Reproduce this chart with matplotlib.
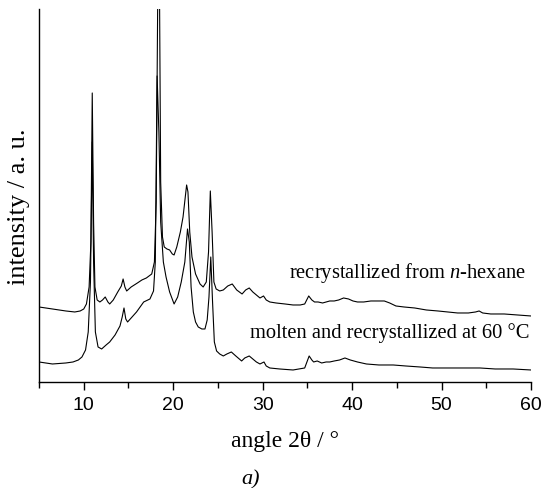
#!/usr/bin/env python3
"""Powder XRD patterns: recrystallized from n-hexane vs. molten/recrystallized at 60 C."""

import matplotlib
matplotlib.use("Agg")
import matplotlib.pyplot as plt
from matplotlib.ticker import MultipleLocator

# upper pattern: recrystallized from n-hexane (angle 2theta, intensity a.u.)
hexane_angle = [5.0, 6.5, 8.0, 9.0, 9.6, 10.0, 10.3, 10.6, 10.8, 10.95, 11.1, 11.25, 11.5,
                11.8, 12.1, 12.4, 12.7, 12.9, 13.3, 13.8, 14.2, 14.4, 14.6, 14.8, 15.3,
                16.0, 16.5, 17.0, 17.6, 17.9, 18.1, 18.3, 18.45, 18.6, 18.8, 19.0, 19.3,
                19.6, 19.9, 20.1, 20.4, 20.8, 21.1, 21.35, 21.5, 21.65, 21.85, 22.1, 22.5,
                23.0, 23.35, 23.7, 23.95, 24.15, 24.35, 24.55, 24.8, 25.2, 25.6, 26.1,
                26.6, 27.1, 27.7, 28.1, 28.5, 28.9, 29.3, 29.7, 30.1, 30.4, 30.8, 31.5,
                32.5, 33.4, 34.2, 34.7, 35.15, 35.5, 35.8, 36.2, 36.7, 37.1, 37.5, 38.0,
                38.5, 39.05, 39.6, 40.1, 40.6, 41.3, 42.1, 42.9, 43.6, 44.2, 44.9, 45.8,
                47.0, 48.3, 49.6, 50.7, 51.8, 53.0, 53.8, 54.2, 54.6, 55.5, 57.0, 58.5, 60.0]
hexane_int = [75, 73, 71, 70, 71, 73, 78, 95, 140, 289, 160, 95, 82,
              80, 82, 85, 80, 78, 82, 90, 96, 103, 95, 91, 95,
              99, 102, 104, 108, 120, 180, 420, 420, 200, 145, 135, 133,
              132, 128, 127, 135, 150, 165, 185, 197, 190, 150, 125, 108,
              98, 95, 100, 130, 191, 150, 100, 93, 91, 92, 96,
              98, 92, 88, 92, 94, 90, 87, 84, 86, 82, 80, 79,
              78, 77, 77, 78, 86, 82, 80, 80, 79, 80, 81, 81,
              82, 84, 83, 81, 80, 80, 81, 81, 81, 79, 76, 75,
              74, 72, 71, 70, 69, 69, 70, 71, 69, 68, 68, 67, 66]

# lower pattern: molten and recrystallized at 60 C
molten_angle = [5.0, 6.5, 8.0, 8.8, 9.4, 9.8, 10.2, 10.5, 10.75, 10.95, 11.1, 11.3, 11.6,
                12.0, 12.5, 12.9, 13.5, 14.05, 14.3, 14.5, 14.7, 14.9, 15.4, 15.9, 16.3,
                16.7, 17.4, 17.8, 18.0, 18.2, 18.4, 18.6, 18.9, 19.2, 19.6, 20.1, 20.5,
                20.9, 21.3, 21.6, 21.8, 22.0, 22.25, 22.5, 22.8, 23.2, 23.55, 23.8, 24.0,
                24.2, 24.4, 24.6, 24.85, 25.2, 25.6, 26.0, 26.5, 27.0, 27.65, 28.0, 28.5,
                28.9, 29.3, 29.7, 30.15, 30.4, 30.8, 31.9, 33.4, 34.7, 35.2, 35.5, 35.7,
                36.1, 36.6, 37.1, 37.5, 38.0, 38.6, 39.2, 39.8, 40.6, 41.6, 43.0, 44.6,
                46.0, 47.6, 49.0, 50.6, 52.5, 54.3, 56.0, 58.0, 60.0]
molten_int = [20, 18, 19, 20, 22, 25, 32, 50, 100, 240, 120, 50, 35,
              33, 37, 40, 47, 56, 65, 74, 63, 60, 65, 70, 75,
              80, 83, 91, 120, 306, 250, 160, 120, 105, 90, 78, 85,
              100, 120, 153, 140, 95, 70, 60, 55, 53, 53, 62, 85,
              125, 80, 40, 31, 28, 26, 28, 30, 26, 21, 24, 26,
              23, 20, 18, 20, 16, 14, 13, 12, 14, 26, 22, 20,
              21, 19, 20, 20, 21, 22, 24, 22, 20, 18, 17, 17,
              16, 15, 14, 14, 14, 14, 13, 13, 12]

SERIF = ["Liberation Serif", "DejaVu Serif"]
SANS = ["Liberation Sans", "DejaVu Sans"]

# italic n in "n-hexane" drawn with the serif face
plt.rcParams["mathtext.fontset"] = "custom"
plt.rcParams["mathtext.rm"] = "Liberation Serif"
plt.rcParams["mathtext.it"] = "Liberation Serif:italic"

fig = plt.figure(figsize=(5.42, 4.89), dpi=100)
ax = fig.add_axes([0.072, 0.2168, 0.9077, 0.7628])

ax.plot(hexane_angle, hexane_int, color="black", lw=0.8)
ax.plot(molten_angle, molten_int, color="black", lw=0.8)

ax.set_xlim(5, 60)
ax.set_ylim(0, 373)

for spine in ("top", "right"):
    ax.spines[spine].set_visible(False)
ax.spines["left"].set_linewidth(1.0)
ax.spines["bottom"].set_linewidth(1.0)

ax.set_yticks([])
ax.xaxis.set_major_locator(MultipleLocator(10))
ax.xaxis.set_minor_locator(MultipleLocator(5))
ax.tick_params(axis="x", which="major", direction="out", length=6, width=1.0,
               labelsize=14, pad=4)
ax.tick_params(axis="x", which="minor", direction="out", length=4, width=1.0)
for lbl in ax.get_xticklabels():
    lbl.set_fontfamily(SANS)

ax.text(0.99, 0.295, "recrystallized from $\\mathit{n}$-hexane", transform=ax.transAxes,
        ha="right", va="center", fontsize=14.8, family=SERIF)
ax.text(0.997, 0.135, "molten and recrystallized at 60 °C", transform=ax.transAxes,
        ha="right", va="center", fontsize=14.8, family=SERIF)

fig.text(0.526, 0.098, "angle 2θ / °", ha="center", va="center", fontsize=17, family=SERIF)
fig.text(0.463, 0.018, "a)", ha="center", va="center", fontsize=16, family=SERIF,
         style="italic")
fig.text(0.035, 0.577, "intensity / a. u.", ha="center", va="center", rotation=90,
         fontsize=19, family=SERIF)

fig.savefig("out.png", dpi=100, facecolor="white")
